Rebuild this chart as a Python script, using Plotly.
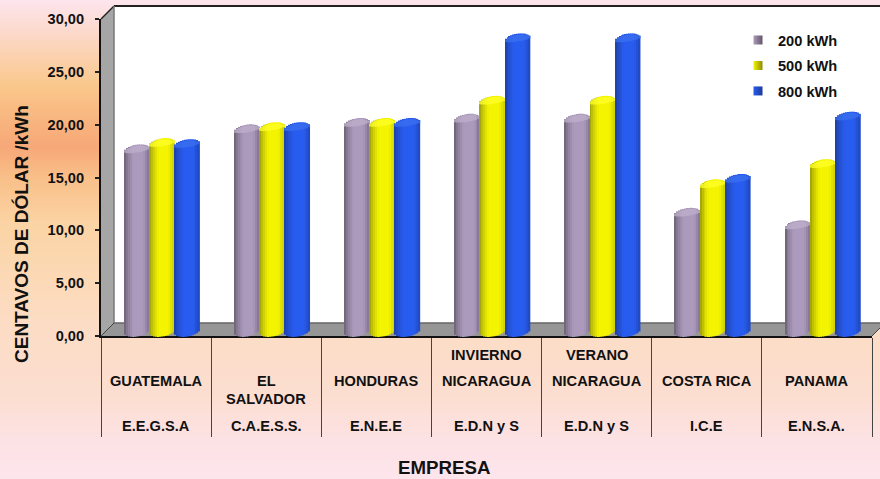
import plotly.graph_objects as go

# ---- data ----
countries = [["GUATEMALA"], ["EL", "SALVADOR"], ["HONDURAS"], ["INVIERNO", "NICARAGUA"],
             ["VERANO", "NICARAGUA"], ["COSTA RICA"], ["PANAMA"]]
companies = ["E.E.G.S.A", "C.A.E.S.S.", "E.N.E.E", "E.D.N y S", "E.D.N y S", "I.C.E", "E.N.S.A."]
series_names = ["200 kWh", "500 kWh", "800 kWh"]
v200 = [17.1, 19.0, 19.6, 20.0, 20.0, 11.1, 9.9]
v500 = [17.7, 19.2, 19.6, 21.7, 21.7, 13.8, 15.7]
v800 = [17.6, 19.2, 19.6, 27.6, 27.6, 14.3, 20.2]
y_ticks = [0, 5, 10, 15, 20, 25, 30]
y_labels = ["0,00", "5,00", "10,00", "15,00", "20,00", "25,00", "30,00"]

W, H = 880, 479
X0, X1, Y0, Y30 = 101, 872, 336, 19
DEPTH = 13
FONT = "Liberation Sans"
INK = "#111111"
def px(x): return x / W
def py(y): return 1 - y / H
def lerp(a, b, t): return tuple(a[i] + (b[i] - a[i]) * t for i in range(3))
def rgb(c): return "rgb(%d,%d,%d)" % tuple(round(v) for v in c)

# ---- background gradient ----
stops = [(0, (253, 229, 238)), (35, (252, 216, 200)), (85, (250, 200, 140)), (125, (248, 178, 125)),
         (148, (247, 168, 120)), (175, (249, 190, 135)), (225, (251, 212, 165)),
         (320, (252, 220, 195)), (400, (252, 222, 210)), (440, (253, 226, 228)), (479, (253, 229, 236))]
def bg(y):
    for (a, ca), (b, cb) in zip(stops, stops[1:]):
        if y <= b:
            return lerp(ca, cb, (y - a) / (b - a))
    return stops[-1][1]
shapes = []
for y in range(0, H, 2):
    shapes.append(dict(type="rect", xref="paper", yref="paper", x0=0, x1=1, y0=py(y + 2.3), y1=py(y),
                       fillcolor=rgb(bg(y + 1)), line_width=0, layer="below"))

def poly(points, fill, line=None, lw=1):
    path = "M" + "L".join(f"{px(x):.5f},{py(y):.5f}" for x, y in points) + "Z"
    shapes.append(dict(type="path", xref="paper", yref="paper", path=path, fillcolor=fill,
                       line=dict(color=line or fill, width=lw if line else 0), layer="below"))

Bx, By = X0 + DEPTH, Y0 - DEPTH
# back wall, side wall, floor
poly([(Bx, 6), (W + 5, 6), (W + 5, By), (Bx, By)], "#FFFFFF")
poly([(X0, Y30), (Bx, 6), (Bx, By), (X0, Y0)], "#A6A6A6")
poly([(X0, Y0), (Bx, By), (X1 + DEPTH, By), (X1, Y0)], "#969696")
def seg(x0, y0, x1, y1, color, w):
    shapes.append(dict(type="line", xref="paper", yref="paper", x0=px(x0), y0=py(y0), x1=px(x1), y1=py(y1),
                       line=dict(color=color, width=w), layer="below"))
seg(Bx, 6, W + 5, 6, "#222222", 2)
seg(X0, Y30, Bx, 6, "#222222", 1.5)
seg(Bx, 6, Bx, By, "#777777", 1.5)
seg(Bx, By, W + 5, By, "#666666", 1.5)
seg(X0, Y0, Bx, By, "#444444", 1)
seg(X1, Y0, X1 + DEPTH, By, "#444444", 1)

# ---- cylinders: each is a set of thin bars with shading ----
SHIFT_X, SHIFT_Y = 6, 5
UNIT = (Y0 - Y30) / 30
CAT = (X1 - X0) / 7
BAR = 25.2 / CAT
N = 13
ELL = 5.6 / UNIT      # cap half height in data units
TILT = 1.8 / UNIT     # oblique skew of the cap

shades = {
    "200 kWh": dict(edgeL=(96, 86, 104), mid=(172, 154, 188), edgeR=(130, 114, 146), cap=(190, 176, 204)),
    "500 kWh": dict(edgeL=(140, 140, 10), mid=(244, 244, 0), edgeR=(205, 205, 0), cap=(255, 255, 40)),
    "800 kWh": dict(edgeL=(28, 58, 150), mid=(40, 92, 238), edgeR=(30, 70, 190), cap=(58, 112, 240)),
}

def shade(s, u):
    if u < -0.25:
        return lerp(s["edgeL"], s["mid"], min(1, ((u + 1) / 0.75) ** 0.6))
    if u < 0.55:
        return s["mid"]
    return lerp(s["mid"], s["edgeR"], (u - 0.55) / 0.45)

def cylinder_trace(values, offset, s):
    xs, ys, bases, cols, widths = [], [], [], [], []
    for i, v in enumerate(values):
        for k in range(N):
            u = (k + 0.5) / N * 2 - 1
            e = ELL * (1 - u * u) ** 0.5
            t = TILT * u
            cx = i + offset + BAR * u / 2
            xs.append(cx); widths.append(BAR / N * 1.02)
            bases.append(-e + t); ys.append(v + e + t - (-e + t)); cols.append(rgb(shade(s, u)))
            xs.append(cx); widths.append(BAR / N * 1.02)
            capdark = lerp(s["cap"], shade(s, u), 0.25)
            bases.append(v - e * 0.4 + t); ys.append(e * 1.2); cols.append(rgb(capdark))
    return go.Bar(x=xs, y=ys, base=bases, width=widths, marker=dict(color=cols, line_width=0),
                  xaxis="x2", yaxis="y2", showlegend=False, hoverinfo="skip")

fig = go.Figure()
for vals, name, off in zip([v200, v500, v800], series_names, [-BAR, 0, BAR]):
    fig.add_trace(cylinder_trace(vals, off, shades[name]))

for i, name in enumerate(series_names):
    s = shades[name]
    fig.add_trace(go.Scatter(x=[None], y=[None], name=name, mode="markers", legendgroup=name,
                             marker=dict(symbol="square", size=9, color=rgb(s["mid"]),
                                         line=dict(width=0),
                                         gradient=dict(type="horizontal", color=rgb(s["edgeL"]))),
                             xaxis="x2", yaxis="y2"))

fig.add_trace(go.Scatter(x=[0], y=[0], mode="markers", marker_opacity=0, showlegend=False, hoverinfo="skip"))

# ---- text ----
annotations = []
for i, (c, comp) in enumerate(zip(countries, companies)):
    if len(c) == 2 and c[0] != "EL":
        rows = [(c[0], 355), (c[1], 381)]
    elif len(c) == 2:
        rows = [(c[0], 381), (c[1], 399)]
    else:
        rows = [(c[0], 381)]
    rows.append((comp, 426))
    for txt, yy in rows:
        annotations.append(dict(text=txt, x=i, xref="x", y=py(yy), yref="paper", showarrow=False,
                                xanchor="center", yanchor="middle",
                                font=dict(family=FONT, size=14.6, color=INK, weight=700)))
annotations.append(dict(text="EMPRESA", x=px(444), y=py(467), xref="paper", yref="paper", showarrow=False,
                        xanchor="center", yanchor="middle",
                        font=dict(family=FONT, size=18.7, color=INK, weight=700)))
annotations.append(dict(text="CENTAVOS DE DÓLAR /kWh", x=px(21.5), y=py(234.5), xref="paper", yref="paper",
                        showarrow=False, textangle=-90, xanchor="center", yanchor="middle",
                        font=dict(family=FONT, size=19, color=INK, weight=700)))

y2_low = -2
fig.update_layout(
    width=W, height=H, margin=dict(l=0, r=0, t=0, b=0, autoexpand=False), autosize=False,
    paper_bgcolor="#FDE5EE", plot_bgcolor="rgba(0,0,0,0)",
    barmode="overlay", shapes=shapes, annotations=annotations,
    font=dict(family=FONT, color=INK),
    legend=dict(x=px(738), y=py(24), xanchor="left", yanchor="top", bgcolor="rgba(0,0,0,0)",
                tracegroupgap=3.5, font=dict(family=FONT, size=14.6, color=INK, weight=700)),
    xaxis=dict(domain=[px(X0), px(X1)], range=[-0.5, 6.5], showgrid=False, zeroline=False,
               tick0=-0.5, dtick=1, ticks="outside", ticklen=99, tickwidth=1.3, tickcolor="#444444",
               showticklabels=False, showline=True, linecolor="#111111", linewidth=2),
    yaxis=dict(domain=[py(Y0), py(Y30)], range=[0, 30], showgrid=False, zeroline=False,
               tickvals=y_ticks, ticktext=y_labels, ticks="outside", ticklen=4, tickwidth=1.5,
               tickcolor="#222222", ticklabelstandoff=8,
               tickfont=dict(family=FONT, size=14.6, color=INK, weight=700),
               showline=True, linecolor="#111111", linewidth=2),
    xaxis2=dict(domain=[px(X0 + SHIFT_X), px(X1 + SHIFT_X)], range=[-0.5, 6.5], visible=False, anchor="y2"),
    yaxis2=dict(domain=[py(Y0 - SHIFT_Y - y2_low * UNIT), py(Y30 - SHIFT_Y)], range=[y2_low, 30],
                visible=False, anchor="x2"),
)
fig.write_html("out.html", config={"displayModeBar": False}, post_script="document.body.style.margin='0';")
